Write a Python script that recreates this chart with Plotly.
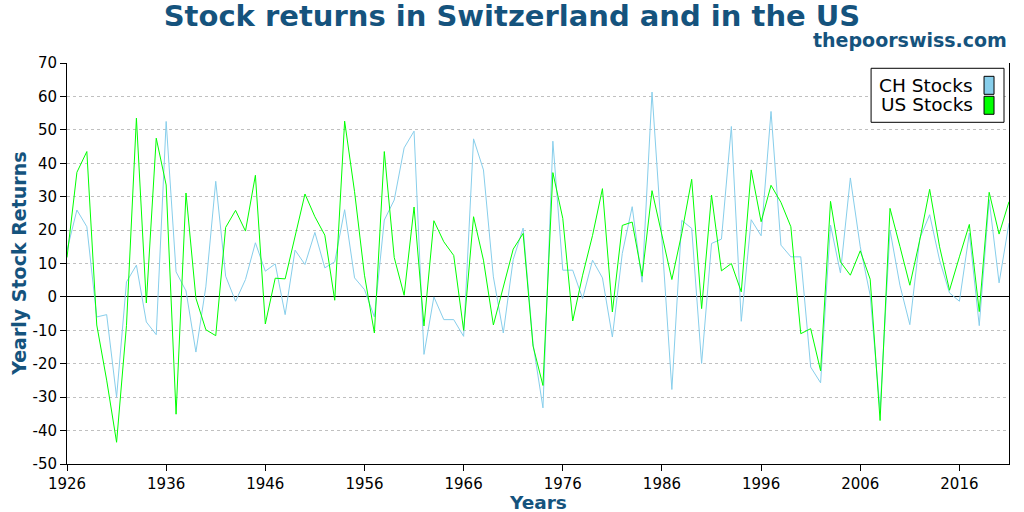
import plotly.graph_objects as go

# Datos (rentabilidad anual en %)
anios = list(range(1926, 2022))

ch_stocks = [
    14, 26, 21, -6, -5.3, -30, 4.5, 9.5, -7.5, -11.3,          # 1926-1935
    52.5, 7.5, 1.8, -16.5, 3, 34.6, 6.2, -1.3, 5.2, 16.2,      # 1936-1945
    7.7, 9.9, -5.3, 14, 9.7, 19.3, 8.7, 10.5, 26.1, 5.7,       # 1946-1955
    2.2, -6, 23, 29, 44.6, 49.6, -17.2, 0, -6.8, -6.8,         # 1956-1965
    -11.8, 47.3, 38, 6, -10.8, 11.2, 20.6, -14, -33.2, 46.6,   # 1966-1975
    8, 8, -0.5, 11, 5.7, -12, 13, 27, 4.4, 61.3,               # 1976-1985
    17, -27.7, 22.9, 20.5, -19.9, 16, 17.3, 51, -7.3, 23.1,    # 1986-1995
    18.3, 55.5, 15.5, 12, 12, -21, -25.7, 21.5, 7.2, 35.6,     # 1996-2005
    15, 0.5, -34, 20, 3.5, -8.3, 17.5, 24.6, 11, 1.2,          # 2006-2015
    -1.3, 19.1, -8.6, 29.1, 4.2, 22.1,                         # 2016-2021
]

us_stocks = [
    11.8, 37.3, 43.5, -8.4, -24.9, -43.5, -8.5, 53.5, -1.8, 47.5,   # 1926-1935
    33.5, -35.1, 31.1, -0.4, -9.8, -11.6, 20.8, 25.9, 19.7, 36.4,   # 1936-1945
    -8.1, 5.6, 5.4, 18.5, 30.8, 24, 18.5, -1, 52.6, 31.5,           # 1946-1955
    6.5, -10.8, 43.5, 11.8, 0.5, 26.9, -8.7, 22.8, 16.5, 12.4,      # 1956-1965
    -10, 24, 11, -8.4, 3, 14.3, 19, -14.7, -26.5, 37.2,             # 1966-1975
    23.5, -7.2, 6.5, 18.4, 32.4, -4.5, 21.4, 22.4, 6.2, 31.8,       # 1976-1985
    18.5, 5.2, 19, 35.2, -3.5, 30.5, 7.8, 10, 1.5, 38,              # 1986-1995
    22.5, 33.4, 28.3, 21, -11, -9.5, -22.1, 28.6, 10.5, 6.5,        # 1996-2005
    13.8, 5.3, -37, 26.5, 15.1, 3.5, 17, 32.2, 15, 2,               # 2006-2015
    12, 21.7, -4.4, 31.3, 18.8, 28.5,                               # 2016-2021
]

x_ticks = [1926, 1936, 1946, 1956, 1966, 1976, 1986, 1996, 2006, 2016]
y_ticks = [-50, -40, -30, -20, -10, 0, 10, 20, 30, 40, 50, 60, 70]
y_labels = ["-50", "-40", "-30", "-20", "-10", "0", "10", "20", "30", "40", "50", "60", "70"]

azul = "#15537d"
fuente = "DejaVu Sans"

fig = go.Figure()
fig.add_trace(go.Scatter(x=anios, y=ch_stocks, mode="lines", name="CH Stocks",
                         line=dict(color="#87ceeb", width=1)))
fig.add_trace(go.Scatter(x=anios, y=us_stocks, mode="lines", name="US Stocks",
                         line=dict(color="#00ff00", width=1)))

fig.update_layout(
    width=1024, height=512,
    margin=dict(l=67, r=15, t=63, b=48),
    paper_bgcolor="white", plot_bgcolor="white",
    showlegend=False,
    font=dict(family=fuente, size=15, color="black"),
    title=dict(text="<b>Stock returns in Switzerland and in the US</b>",
               x=0.5, xref="container", xanchor="center",
               y=1 - 16 / 512, yref="container", yanchor="middle",
               font=dict(family=fuente, size=29, color=azul)),
)

fig.update_xaxes(
    range=[1926, 2021], tickvals=x_ticks, ticks="outside", ticklen=6,
    tickcolor="black", showgrid=False, showline=True, linecolor="black",
    linewidth=1, zeroline=False,
)
fig.update_yaxes(
    range=[-50, 70], tickvals=y_ticks, ticktext=y_labels, ticks="outside",
    ticklen=6, tickcolor="black", showline=True, linecolor="black",
    linewidth=1, mirror=True, showgrid=True, gridcolor="#c0c0c0",
    griddash="3px,3px", gridwidth=1, zeroline=True, zerolinecolor="black",
    zerolinewidth=1,
)

# Títulos de ejes y subtítulo como anotaciones
fig.add_annotation(text="<b>thepoorswiss.com</b>", x=1, y=1.0574, xref="paper", yref="paper",
                   xanchor="right", yanchor="middle", showarrow=False,
                   font=dict(family=fuente, size=19, color=azul))
fig.add_annotation(text="<b>Years</b>", x=0.5, y=-0.097, xref="paper", yref="paper",
                   xanchor="center", yanchor="middle", showarrow=False,
                   font=dict(family=fuente, size=18.5, color=azul))
fig.add_annotation(text="<b>Yearly Stock Returns</b>", x=-0.0517, y=0.5, xref="paper",
                   yref="paper", xanchor="center", yanchor="middle", textangle=-90,
                   showarrow=False, font=dict(family=fuente, size=19, color=azul))

# Leyenda dibujada a mano (texto a la izquierda, cuadro de color a la derecha)
fig.add_shape(type="rect", xref="paper", yref="paper", x0=0.8536, x1=0.9947,
              y0=0.8521, y1=0.9868, line=dict(color="black", width=1), fillcolor="white")
leyenda = [("CH Stocks", "#87ceeb", 0.9451, 0.9219, 0.9668),
           ("US Stocks", "#00ff00", 0.8953, 0.8721, 0.9170)]
for nombre, color, yc, y0, y1 in leyenda:
    fig.add_annotation(text=nombre, x=0.9636, y=yc, xref="paper", yref="paper",
                       xanchor="right", yanchor="middle", showarrow=False,
                       font=dict(family=fuente, size=18.5, color="black"))
    fig.add_shape(type="rect", xref="paper", yref="paper", x0=0.9735, x1=0.9841,
                  y0=y0, y1=y1, line=dict(color="black", width=1), fillcolor=color)

# quitar el margen por defecto del <body> para que el gráfico empiece en (0, 0)
fig.write_html("out.html", config={"displayModeBar": False},
               post_script="document.body.style.margin = '0';")
